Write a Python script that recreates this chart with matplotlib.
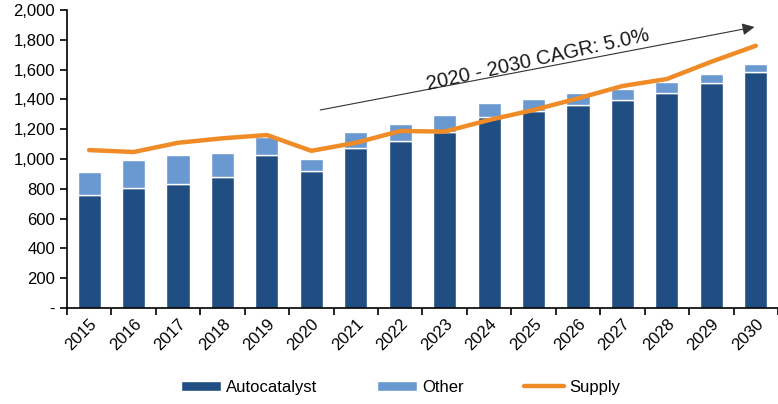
import numpy as np
import matplotlib.pyplot as plt

plt.rcParams['font.family'] = ['Liberation Sans', 'DejaVu Sans']

years = [str(y) for y in range(2015, 2031)]
autocatalyst = [758, 803, 834, 881, 1025, 917, 1074, 1123, 1184, 1280, 1324, 1362, 1396, 1445, 1508, 1582]
total_demand = [910, 993, 1027, 1038, 1150, 1000, 1179, 1233, 1295, 1374, 1403, 1441, 1472, 1517, 1572, 1638]
other = [t - a for t, a in zip(total_demand, autocatalyst)]
supply = [1060, 1047, 1109, 1139, 1161, 1055, 1109, 1188, 1184, 1262, 1329, 1407, 1490, 1537, 1653, 1760]

dark_blue = "#214e82"
light_blue = "#6a98d0"
orange = "#f08c28"

fig = plt.figure(figsize=(7.78, 4.04), dpi=100)
ax = fig.add_axes([0.086, 0.2376, 0.914, 0.7376])

x = np.arange(len(years))
b1 = ax.bar(x, autocatalyst, width=0.52, color=dark_blue, edgecolor="white", linewidth=1.0, label="Autocatalyst")
b2 = ax.bar(x, other, width=0.52, bottom=autocatalyst, color=light_blue, edgecolor="white", linewidth=1.0, label="Other")
ln, = ax.plot(x, supply, color=orange, lw=3.2, solid_capstyle="round", label="Supply", zorder=3)

# CAGR arrow
ax.annotate("", xy=(14.97, 1886), xytext=(5.2, 1329),
            arrowprops=dict(arrowstyle="-|>", color="#333333", lw=0.8,
                            mutation_scale=18, shrinkA=0, shrinkB=0))
ax.text(10.1, 1664, "2020 - 2030 CAGR: 5.0%", rotation=12.6, ha="center", va="center",
        fontsize=14.5, color="#1a1a1a", rotation_mode="anchor")

ax.set_xlim(-0.5, len(years) - 0.5)
ax.set_ylim(0, 2000)
ax.set_yticks(np.arange(0, 2001, 200))
ax.set_yticklabels(["-"] + [f"{v:,}" for v in range(200, 2001, 200)], fontsize=12)
ax.set_xticks(x)
ax.set_xticklabels(years, rotation=45, ha="right", rotation_mode="anchor", fontsize=12)
ax.set_xticks(np.arange(-0.5, len(years)), minor=True)
ax.tick_params(axis="x", which="major", length=0, pad=6)
ax.tick_params(axis="x", which="minor", length=5, width=1.2, direction="out")
ax.tick_params(axis="y", length=5, width=1.2, direction="out")
for side in ["top", "right"]:
    ax.spines[side].set_visible(False)
ax.spines["left"].set_linewidth(1.2)
ax.spines["bottom"].set_linewidth(1.2)

fig.legend(handles=[b1, b2, ln], loc="lower center", bbox_to_anchor=(0.515, -0.015), ncol=3, frameon=False,
           fontsize=12, handlelength=2.4, handleheight=0.6, columnspacing=3.6, handletextpad=0.3)

fig.savefig("out.png", dpi=100)
